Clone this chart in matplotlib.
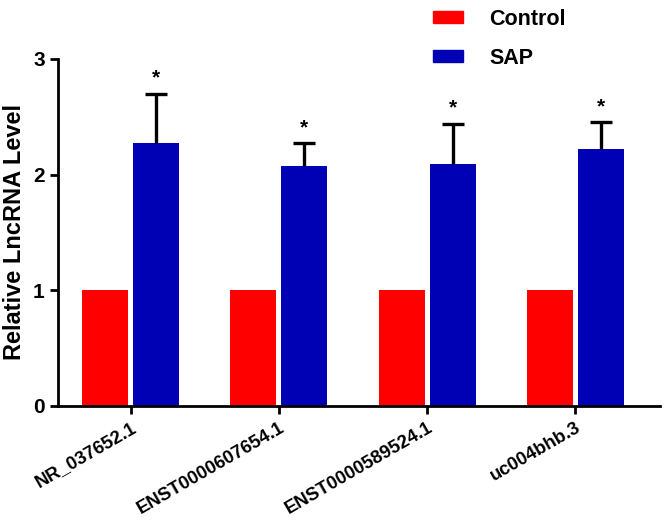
import numpy as np
import matplotlib
matplotlib.use("Agg")
import matplotlib.pyplot as plt
from matplotlib.patches import Patch

plt.rcParams["font.family"] = ["Liberation Sans", "DejaVu Sans"]
plt.rcParams["font.weight"] = "bold"

genes = ["NR_037652.1", "ENST0000607654.1", "ENST0000589524.1", "uc004bhb.3"]
control = [1.0, 1.0, 1.0, 1.0]
sap = [2.27, 2.07, 2.09, 2.22]
sap_err = [0.43, 0.20, 0.35, 0.23]

red = "#ff0000"
blue = "#0000b4"

fig = plt.figure(figsize=(6.66, 5.21), dpi=100)
ax = fig.add_axes([0.087, 0.221, 0.904, 0.666])

x = np.arange(len(genes))
w = 0.31
off = 0.172
ax.bar(x - off, control, w, color=red)
ax.bar(x + off, sap, w, color=blue)
eb = ax.errorbar(x + off, sap, yerr=[np.zeros(len(sap)), sap_err], fmt="none",
                 ecolor="black", elinewidth=2.4, capsize=8, capthick=2.4)
# only keep the upper cap
eb[1][0].set_visible(False)
for xi, top in zip(x + off, np.array(sap) + np.array(sap_err)):
    ax.text(xi, top + 0.05, "*", ha="center", va="bottom", fontsize=15, fontweight="bold")

ax.set_xlim(-0.49, 3.57)
ax.set_ylim(0, 3)
ax.set_yticks([0, 1, 2, 3])
ax.set_xticks(x)
ax.set_xticklabels(genes, rotation=30, ha="right", rotation_mode="anchor", fontsize=13.3)
ax.tick_params(axis="y", labelsize=15, width=2, length=6)
ax.tick_params(axis="x", width=2, length=6)
ax.set_ylabel("Relative LncRNA Level", fontsize=17, fontweight="bold", labelpad=5)
for s in ["top", "right"]:
    ax.spines[s].set_visible(False)
for s in ["left", "bottom"]:
    ax.spines[s].set_linewidth(2)

handles = [Patch(color=red, label="Control"), Patch(color=blue, label="SAP")]
fig.legend(handles=handles, loc="upper left", bbox_to_anchor=(0.634, 1.004), frameon=False,
           borderpad=0, fontsize=15.5, handlelength=1.4, handleheight=0.5,
           labelspacing=0.85, handletextpad=1.2)

fig.savefig("out.png", dpi=100)
